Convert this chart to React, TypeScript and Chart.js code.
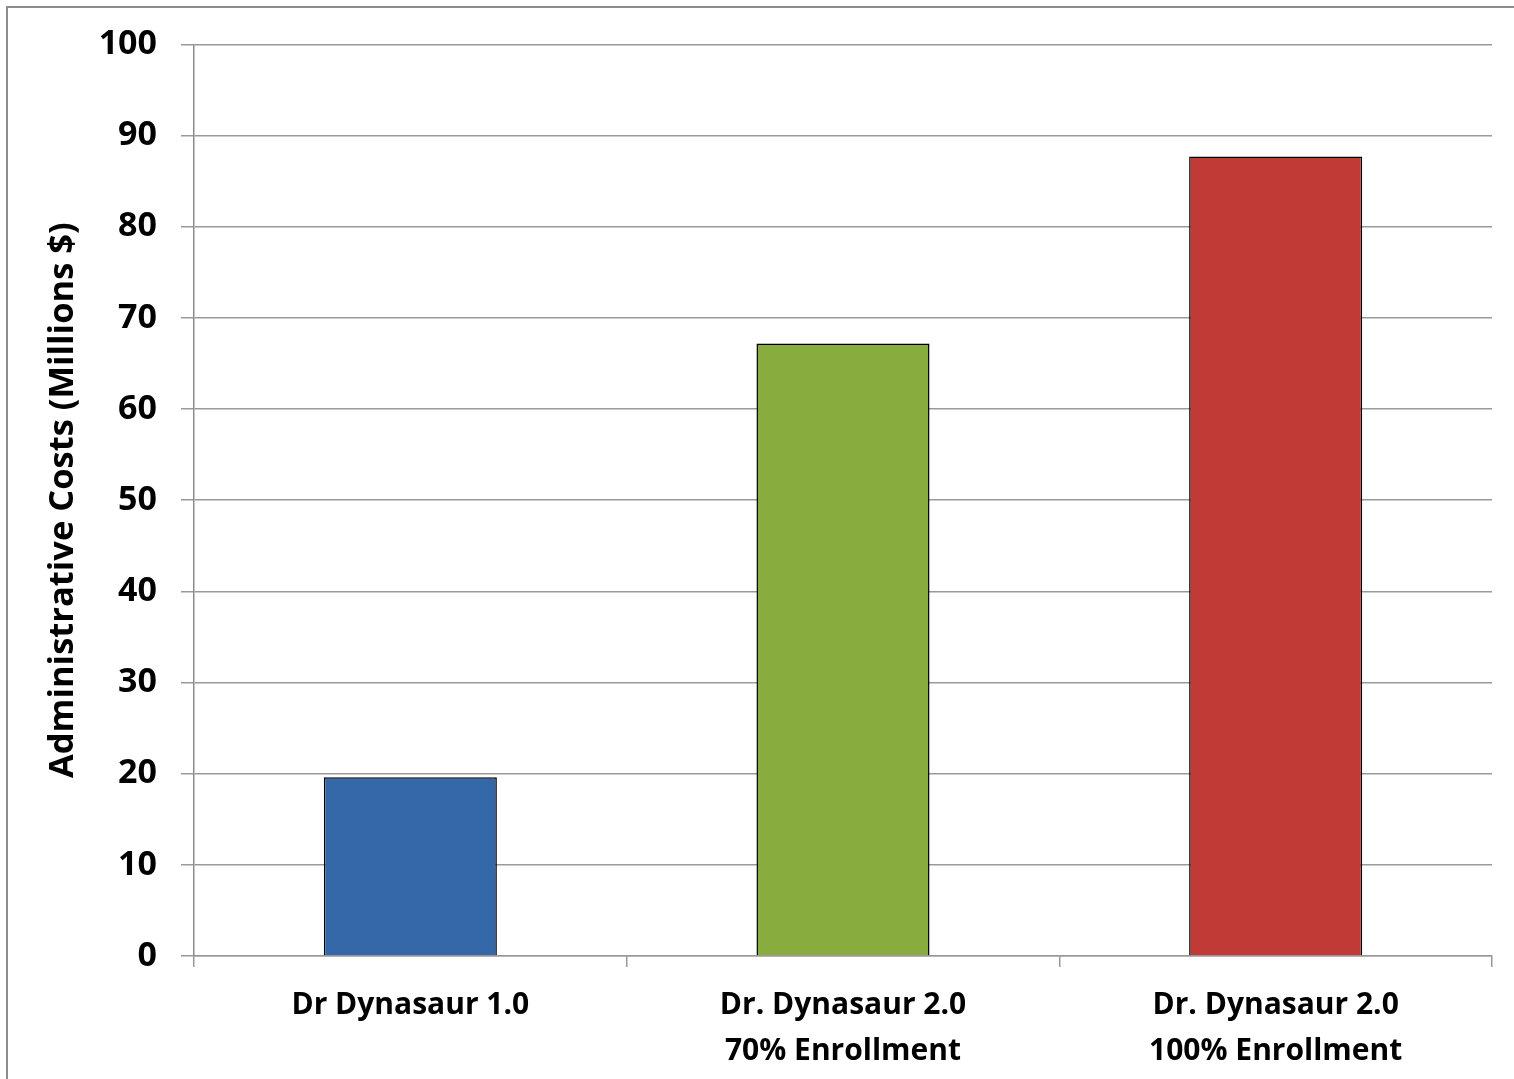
import React, { useEffect, useRef } from "react";
import { Chart, registerables } from "chart.js";

Chart.register(...registerables);

const categories: string[][] = [
  ["Dr Dynasaur 1.0"],
  ["Dr. Dynasaur 2.0", "70% Enrollment"],
  ["Dr. Dynasaur 2.0", "100% Enrollment"],
];
const costValues: number[] = [19.6, 67.2, 87.7];
const barColors: string[] = ["#3568A8", "#88AC3E", "#C03A36"];
const yTitle = "Administrative Costs (Millions $)";
const yMin = 0;
const yMax = 100;
const yStep = 10;

const frame = {
  id: "frame",
  beforeDraw(chart: any) {
    const ctx = chart.ctx;
    ctx.save();
    ctx.fillStyle = "#ffffff";
    ctx.fillRect(0, 0, chart.width, chart.height);
    ctx.strokeStyle = "#8c8c8c";
    ctx.lineWidth = 2;
    ctx.beginPath();
    ctx.moveTo(7, chart.height + 5);
    ctx.lineTo(7, 7);
    ctx.lineTo(chart.width + 5, 7);
    ctx.stroke();
    ctx.restore();
  },
};

export default function App() {
  const ref = useRef<HTMLCanvasElement | null>(null);
  useEffect(() => {
    if (!ref.current) return;
    document.body.style.overflow = "hidden";
    const font = "'Open Sans', Lato, sans-serif";
    const chart = new Chart(ref.current, {
      type: "bar",
      data: {
        labels: categories,
        datasets: [
          {
            data: costValues,
            backgroundColor: barColors,
            borderColor: "#000000",
            borderWidth: 1.5,
            barPercentage: 0.4,
            categoryPercentage: 1,
          },
        ],
      },
      options: {
        responsive: false,
        animation: false,
        layout: { padding: { left: 0, right: 22, top: 43, bottom: 0 } },
        plugins: { legend: { display: false }, tooltip: { enabled: false } },
        scales: {
          x: {
            grid: {
              display: true,
              drawOnChartArea: false,
              offset: true,
              tickLength: 11,
              color: "#999999",
              lineWidth: 1.5,
            },
            border: { display: true, color: "#999999", width: 1.5 },
            ticks: {
              color: "#000000",
              padding: 16,
              maxRotation: 0,
              autoSkip: false,
              font: { family: font, weight: "bold", size: 30, lineHeight: 1.53 },
            },
            afterFit: (s: any) => {
              s.height = 123;
            },
          },
          y: {
            min: yMin,
            max: yMax,
            grid: { color: "#999999", lineWidth: 1.5, tickLength: 13 },
            border: { display: true, color: "#8c8c8c", width: 1.5 },
            ticks: {
              stepSize: yStep,
              color: "#000000",
              padding: 24,
              font: { family: font, weight: "bold", size: 34 },
            },
            title: {
              display: true,
              text: yTitle,
              color: "#000000",
              padding: { top: 42, bottom: 0 },
              font: { family: font, weight: "bold", size: 34.5 },
            },
            afterFit: (s: any) => {
              s.width = 194;
            },
          },
        },
      },
      plugins: [frame],
    });
    return () => chart.destroy();
  }, []);
  return (
    <div style={{ position: "fixed", left: 0, top: 0, width: 1514, height: 1079, background: "#fff", overflow: "hidden" }}>
      <canvas ref={ref} width={1514} height={1079} style={{ display: "block" }} />
    </div>
  );
}
